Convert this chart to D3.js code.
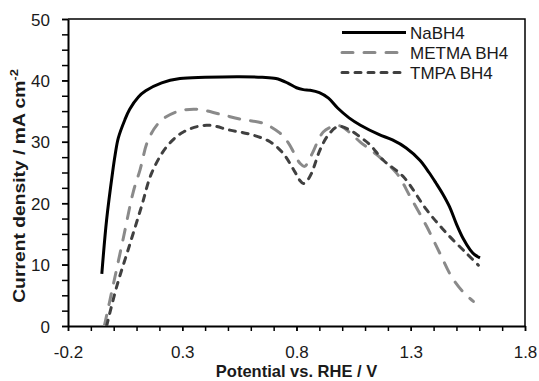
<!DOCTYPE html>
<html>
<head>
<meta charset="utf-8">
<script src="https://cdn.jsdelivr.net/npm/d3@7"></script>
<style>
  body { margin: 0; background: #fff; }
  text { font-family: "Liberation Sans", Arial, sans-serif; }
</style>
</head>
<body>
<div id="chart"></div>
<script>
// values
const xTicks = [-0.2, 0.3, 0.8, 1.3, 1.8];
const yTicks = [0, 10, 20, 30, 40, 50];

const potNa = [-0.052, -0.031, -0.005, 0.006, 0.02, 0.049, 0.07, 0.108, 0.14, 0.21, 0.29, 0.4, 0.55, 0.65, 0.71, 0.76, 0.8, 0.83, 0.86, 0.9, 0.94, 0.98, 1.03, 1.08, 1.16, 1.22, 1.28, 1.34, 1.38, 1.41, 1.44, 1.47, 1.5, 1.53, 1.56, 1.58, 1.603];
const curNa = [8.5, 17.3, 25.0, 27.8, 30.6, 33.6, 35.3, 37.3, 38.3, 39.6, 40.3, 40.5, 40.6, 40.5, 40.3, 39.6, 38.8, 38.5, 38.4, 38.0, 37.1, 35.5, 33.9, 32.7, 31.2, 30.3, 29.0, 27.0, 25.0, 23.3, 21.5, 19.4, 16.6, 14.2, 12.4, 11.6, 11.1];

const potMe = [-0.041, -0.002, 0.042, 0.086, 0.115, 0.151, 0.203, 0.276, 0.363, 0.465, 0.553, 0.655, 0.728, 0.765, 0.793, 0.815, 0.835, 0.866, 0.917, 0.96, 0.99, 1.03, 1.078, 1.151, 1.238, 1.297, 1.37, 1.428, 1.479, 1.53, 1.574];
const curMe = [0, 6.7, 14.3, 21.9, 25.4, 30.3, 33.3, 34.9, 35.3, 34.5, 33.7, 33.0, 31.4, 29.8, 27.9, 26.5, 26.0, 27.9, 31.6, 32.5, 32.6, 31.6, 30.0, 27.9, 24.9, 21.1, 16.2, 11.8, 8.0, 5.5, 4.0];

const potTm = [-0.031, 0.013, 0.068, 0.122, 0.166, 0.232, 0.305, 0.407, 0.509, 0.6, 0.684, 0.742, 0.793, 0.815, 0.83, 0.845, 0.866, 0.903, 0.939, 0.983, 1.034, 1.078, 1.122, 1.18, 1.268, 1.37, 1.457, 1.545, 1.596];
const curTm = [0, 6.4, 13.0, 19.5, 24.9, 29.2, 31.6, 32.7, 31.9, 31.2, 30.0, 28.1, 25.1, 23.7, 23.2, 23.6, 24.9, 28.7, 31.1, 32.5, 31.9, 30.8, 29.5, 27.0, 24.3, 18.9, 15.1, 11.8, 9.9];

const series = [
	{ name: "NaBH4", x: potNa, y: curNa, color: "#000", dash: null, cap: "butt" },
	{ name: "METMA BH4", x: potMe, y: curMe, color: "#8a8a8a", dash: "11,11", cap: "round" },
	{ name: "TMPA BH4", x: potTm, y: curTm, color: "#404040", dash: "6,7", cap: "round" },
];

const width = 539;
const height = 381;
const plotL = 68, plotR = 525, plotT = 19, plotB = 326;
const textColor = "#1a1a1a";

const svg = d3
	.select("#chart")
	.append("svg")
	.attr("width", width)
	.attr("height", height);

const x = d3.scaleLinear().domain([-0.2, 1.8]).range([plotL, plotR]);
const y = d3.scaleLinear().domain([0, 50]).range([plotB, plotT]);

svg.append("defs")
	.append("clipPath")
	.attr("id", "plot")
	.append("rect")
	.attr("x", plotL)
	.attr("y", plotT)
	.attr("width", plotR - plotL)
	.attr("height", plotB - plotT);

const fmt = (d) => d3.format(".1f")(d).replace("−", "-");

// minor ticks
svg.append("g")
	.attr("transform", `translate(0,${plotB})`)
	.call(d3.axisBottom(x).tickValues(d3.range(-0.2, 1.81, 0.1)).tickSize(5).tickFormat(""))
	.call((g) => g.select(".domain").remove());

svg.append("g")
	.attr("transform", `translate(${plotL},0)`)
	.call(d3.axisLeft(y).tickValues(d3.range(0, 50.1, 2.5)).tickSize(6).tickFormat(""))
	.call((g) => g.select(".domain").remove());

// major axes
const xAxis = svg.append("g")
	.attr("transform", `translate(0,${plotB})`)
	.call(d3.axisBottom(x).tickValues(xTicks).tickSize(5).tickSizeOuter(0).tickFormat(fmt));
xAxis.selectAll("text")
	.attr("font-size", 17)
	.attr("fill", textColor)
	.attr("y", 0)
	.attr("dy", 32);

const yAxis = svg.append("g")
	.attr("transform", `translate(${plotL},0)`)
	.call(d3.axisLeft(y).tickValues(yTicks).tickSize(6).tickSizeOuter(0));
yAxis.selectAll("text")
	.attr("font-size", 17)
	.attr("fill", textColor)
	.attr("x", -18)
	.attr("dy", "0.36em");

svg.selectAll(".domain").attr("stroke-width", 2);
svg.selectAll(".tick line").attr("stroke-width", 1.5);
svg.selectAll("g").attr("font-family", null);

// box around the plot
svg.append("path")
	.attr("fill", "none")
	.attr("stroke", "#000")
	.attr("stroke-width", 1.5)
	.attr("d", `M${plotL},${plotT} H${plotR} V${plotB}`);

// curves
const line = d3
	.line()
	.x((d) => x(d[0]))
	.y((d) => y(d[1]))
	.curve(d3.curveCatmullRom.alpha(0.5));

svg.append("g")
	.attr("clip-path", "url(#plot)")
	.selectAll("path")
	.data(series)
	.join("path")
	.attr("fill", "none")
	.attr("stroke", (d) => d.color)
	.attr("stroke-width", 3)
	.attr("stroke-linecap", (d) => d.cap)
	.attr("stroke-dasharray", (d) => d.dash)
	.attr("d", (d) => line(d.x.map((v, i) => [v, d.y[i]])));

// legend
const legend = svg.append("g")
	.selectAll("g")
	.data(series)
	.join("g")
	.attr("transform", (d, i) => `translate(342,${32.5 + i * 20})`);

legend.append("line")
	.attr("x1", 0)
	.attr("x2", 64)
	.attr("stroke", (d) => d.color)
	.attr("stroke-width", 3)
	.attr("stroke-linecap", (d) => d.cap)
	.attr("stroke-dasharray", (d) => d.dash);

legend.append("text")
	.attr("x", 68)
	.attr("dy", "0.36em")
	.attr("font-size", 17)
	.attr("fill", textColor)
	.text((d) => d.name);

// axis titles
svg.append("text")
	.attr("x", (plotL + plotR) / 2)
	.attr("y", 377)
	.attr("text-anchor", "middle")
	.attr("font-size", 16.5)
	.attr("font-weight", "bold")
	.attr("fill", textColor)
	.text("Potential vs. RHE / V");

const yTitle = svg.append("text")
	.attr("transform", "translate(25,186) rotate(-90) scale(1.17,1)")
	.attr("text-anchor", "middle")
	.attr("font-size", 16.5)
	.attr("font-weight", "bold")
	.attr("fill", textColor);
yTitle.append("tspan").text("Current density / mA cm");
yTitle.append("tspan").attr("dy", -7).attr("font-size", 11).text("-2");
</script>
</body>
</html>
